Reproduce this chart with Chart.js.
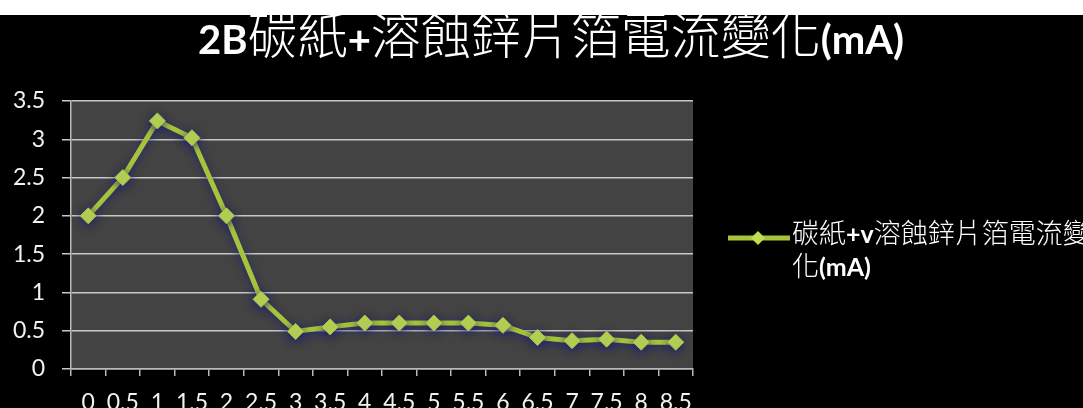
<!DOCTYPE html>
<html>
<head>
<meta charset="utf-8">
<script src="https://cdn.jsdelivr.net/npm/chart.js@4/dist/chart.umd.min.js"></script>
<style>
  html, body { margin: 0; padding: 0; background: #000; overflow: hidden; }
  #wrap { position: relative; width: 1083px; height: 408px; overflow: hidden; background: #000; }
  #topband { position: absolute; left: 0; top: 0; width: 1083px; height: 15px; background: #fff; z-index: 2; }
  canvas { position: absolute; left: 0; top: 0; }
</style>
</head>
<body>
<div id="wrap">
  <div id="topband"></div>
  <canvas id="chart" width="1083" height="440"></canvas>
</div>
<script>
// Time points (x axis categories)
const categories = ['0', '0.5', '1', '1.5', '2', '2.5', '3', '3.5', '4', '4.5',
                    '5', '5.5', '6', '6.5', '7', '7.5', '8', '8.5'];
// Measured current in mA
const currentValues = [2.0, 2.5, 3.24, 3.02, 2.0, 0.91, 0.49, 0.55, 0.6, 0.6,
                       0.6, 0.6, 0.57, 0.41, 0.37, 0.39, 0.35, 0.35];
const seriesLabel = '碳紙+v溶蝕鋅片箔電流變化(mA)';
const chartTitle = '2B碳紙+溶蝕鋅片箔電流變化(mA)';
const yTickValues = [0, 0.5, 1, 1.5, 2, 2.5, 3, 3.5];

const LINE_COLOR = '#a6c43a';
const POINT_COLOR = '#c0dc50';

function isCJK(ch) { return ch.charCodeAt(0) >= 0x2E80; }

// split a string into runs of CJK / latin characters
function toRuns(text) {
  const runs = [];
  for (const ch of text) {
    const c = isCJK(ch);
    if (runs.length && runs[runs.length - 1].cjk === c) runs[runs.length - 1].text += ch;
    else runs.push({ text: ch, cjk: c });
  }
  return runs;
}

function runWidth(ctx, runs, fonts) {
  let w = 0;
  for (const r of runs) { ctx.font = r.cjk ? fonts.cjk : fonts.latin; w += ctx.measureText(r.text).width; }
  return w;
}

function drawRuns(ctx, runs, x, y, fonts) {
  for (const r of runs) {
    ctx.font = r.cjk ? fonts.cjk : fonts.latin;
    ctx.fillText(r.text, x, y);
    x += ctx.measureText(r.text).width;
  }
}

// Plot background, title and wrapped legend
const decorations = {
  id: 'decorations',
  beforeDraw(chart) {
    const { ctx, chartArea: a } = chart;
    ctx.save();
    ctx.fillStyle = '#000';
    ctx.fillRect(0, 0, chart.width, chart.height);
    ctx.fillStyle = '#434343';
    ctx.fillRect(a.left, a.top, a.right - a.left, a.bottom - a.top);
    ctx.restore();
  },
  beforeDatasetsDraw(chart) {
    const ctx = chart.ctx;
    ctx.save();
    ctx.shadowColor = 'rgba(30, 30, 120, 0.9)';
    ctx.shadowBlur = 9;
    ctx.shadowOffsetY = 2;
  },
  afterDatasetsDraw(chart) {
    chart.ctx.restore();
  },
  afterDraw(chart) {
    const ctx = chart.ctx;
    ctx.save();
    ctx.fillStyle = '#ffffff';
    ctx.textBaseline = 'alphabetic';
    ctx.textAlign = 'left';

    // title
    const tFonts = { latin: 'bold 40px Lato', cjk: '300 50px "Noto Sans CJK TC"' };
    const tRuns = toRuns(chartTitle);
    const tw = runWidth(ctx, tRuns, tFonts);
    drawRuns(ctx, tRuns, 551 - tw / 2, 54, tFonts);

    // legend marker
    const ds = chart.data.datasets[0];
    ctx.strokeStyle = LINE_COLOR;
    ctx.lineWidth = 5;
    ctx.beginPath();
    ctx.moveTo(728, 238);
    ctx.lineTo(790, 238);
    ctx.stroke();
    ctx.fillStyle = POINT_COLOR;
    ctx.beginPath();
    ctx.moveTo(758, 231); ctx.lineTo(765, 238); ctx.lineTo(758, 245); ctx.lineTo(751, 238);
    ctx.closePath();
    ctx.fill();

    // legend text, wrapped
    const lFonts = { latin: 'bold 25px Lato', cjk: '300 27px "Noto Sans CJK TC"' };
    const maxW = 310;
    const lines = [''];
    for (const ch of ds.label) {
      const cur = lines[lines.length - 1] + ch;
      if (runWidth(ctx, toRuns(cur), lFonts) > maxW) lines.push(ch);
      else lines[lines.length - 1] = cur;
    }
    ctx.fillStyle = '#ffffff';
    lines.forEach((ln, i) => drawRuns(ctx, toRuns(ln), 792, 243 + i * 33, lFonts));
    ctx.restore();
  }
};

new Chart(document.getElementById('chart'), {
  type: 'line',
  data: {
    labels: categories,
    datasets: [{
      label: seriesLabel,
      data: currentValues,
      borderColor: LINE_COLOR,
      borderWidth: 5,
      backgroundColor: POINT_COLOR,
      pointStyle: 'rectRot',
      pointRadius: 8,
      pointBorderColor: '#a8c840',
      pointBorderWidth: 1,
      tension: 0,
      fill: false
    }]
  },
  options: {
    responsive: false,
    devicePixelRatio: 1,
    animation: false,
    layout: { padding: { left: 0, right: 390, top: 101, bottom: 0 } },
    plugins: {
      legend: { display: false },
      title: { display: false },
      tooltip: { enabled: false }
    },
    scales: {
      x: {
        offset: true,
        grid: {
          offset: true,
          drawOnChartArea: false,
          drawTicks: true,
          tickLength: 7,
          color: '#b8b8b8',
          lineWidth: 1.5
        },
        border: { color: '#b8b8b8', width: 1.5 },
        ticks: {
          color: '#f2f2f2',
          font: { family: 'Lato', size: 23 },
          padding: 13,
          autoSkip: false,
          maxRotation: 0,
          minRotation: 0
        },
        afterFit(scale) { scale.height = 71; }
      },
      y: {
        min: 0,
        max: 3.5,
        afterBuildTicks(scale) { scale.ticks = yTickValues.map(v => ({ value: v })); },
        grid: {
          color: '#c8c8c8',
          lineWidth: 1.5,
          tickLength: 9
        },
        border: { color: '#b8b8b8', width: 1.5 },
        ticks: {
          color: '#f2f2f2',
          font: { family: 'Lato', size: 23 },
          padding: 17,
          callback: v => String(v)
        },
        afterFit(scale) { scale.width = 71; }
      }
    }
  },
  plugins: [decorations]
});
</script>
</body>
</html>
